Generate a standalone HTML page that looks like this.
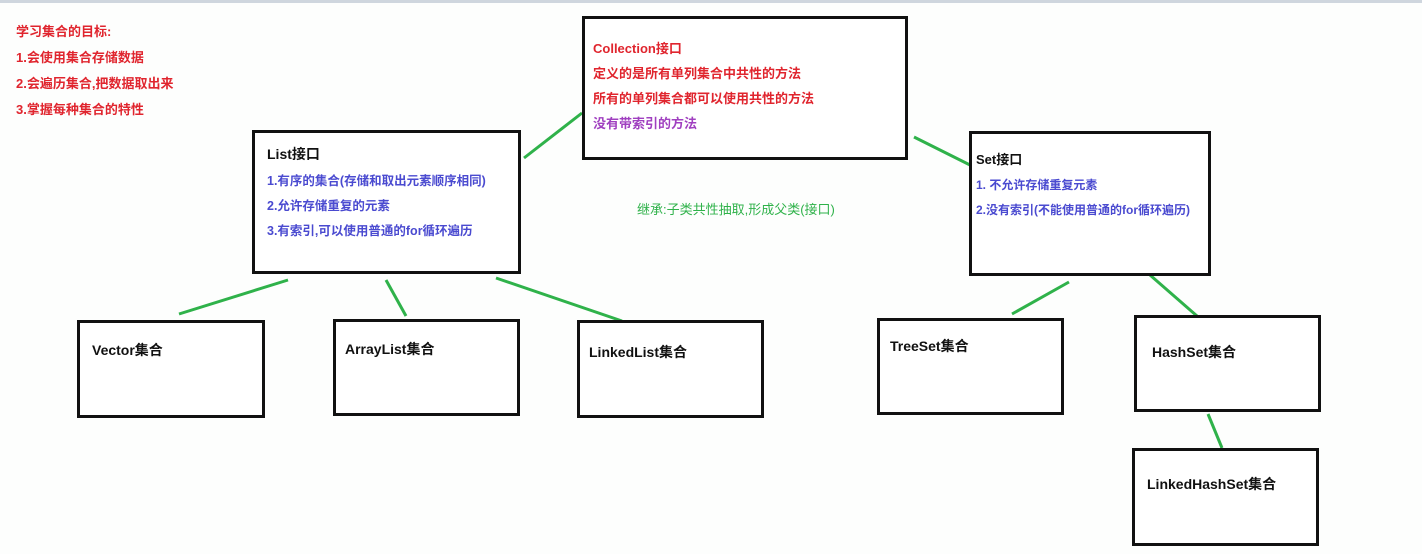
<!DOCTYPE html>
<html><head><meta charset="utf-8"><style>
body{margin:0;width:1422px;height:554px;background:#fdfefd;position:relative;overflow:hidden;font-family:"Liberation Sans","Noto Sans CJK SC",sans-serif;font-weight:bold}
.b{position:absolute;border:3px solid #111;box-sizing:border-box;background:#fff}
.t{position:absolute;font-size:13px;white-space:nowrap}
.r{color:#e0252e}.bl{color:#4a4ad0}.k{color:#111;font-size:14px}
</style></head><body>
<div style="position:absolute;left:0;top:0;width:1422px;height:3px;background:#cfd6de"></div>
<div class="t r" style="left:16px;top:19px;line-height:26px;font-size:13px">学习集合的目标:<br>1.会使用集合存储数据<br>2.会遍历集合,把数据取出来<br>3.掌握每种集合的特性</div>
<svg width="1422" height="554" style="position:absolute;left:0;top:0">
<g stroke="#2fb24a" stroke-width="3">
<line x1="524" y1="158" x2="582" y2="113"/>
<line x1="914" y1="137" x2="972" y2="166"/>
<line x1="288" y1="280" x2="179" y2="314"/>
<line x1="386" y1="280" x2="406" y2="316"/>
<line x1="496" y1="278" x2="622" y2="321"/>
<line x1="1069" y1="282" x2="1012" y2="314"/>
<line x1="1150" y1="275" x2="1205" y2="323"/>
<line x1="1208" y1="414" x2="1222" y2="448"/>
</g></svg>
<div class="b" style="left:582px;top:16px;width:326px;height:144px"></div>
<div class="t r" style="left:593px;top:36px;line-height:25px">Collection接口<br>定义的是所有单列集合中共性的方法<br>所有的单列集合都可以使用共性的方法<br><span style="color:#a040c0">没有带索引的方法</span></div>
<div class="b" style="left:252px;top:130px;width:269px;height:144px"></div>
<div class="t k" style="left:267px;top:144px">List接口</div>
<div class="t bl" style="left:267px;top:169px;line-height:25px;font-size:12.5px">1.有序的集合(存储和取出元素顺序相同)<br>2.允许存储重复的元素<br>3.有索引,可以使用普通的for循环遍历</div>
<div class="b" style="left:969px;top:131px;width:242px;height:145px"></div>
<div class="t k" style="left:976px;top:149px;font-size:13px">Set接口</div>
<div class="t bl" style="left:976px;top:173px;line-height:25px;font-size:12px">1. 不允许存储重复元素<br>2.没有索引(不能使用普通的for循环遍历)</div>
<div class="t" style="left:637px;top:199px;color:#2fb24a;font-weight:normal">继承:子类共性抽取,形成父类(接口)</div>
<div class="b" style="left:77px;top:320px;width:188px;height:98px"></div>
<div class="t k" style="left:92px;top:340px">Vector集合</div>
<div class="b" style="left:333px;top:319px;width:187px;height:97px"></div>
<div class="t k" style="left:345px;top:339px">ArrayList集合</div>
<div class="b" style="left:577px;top:320px;width:187px;height:98px"></div>
<div class="t k" style="left:589px;top:342px">LinkedList集合</div>
<div class="b" style="left:877px;top:318px;width:187px;height:97px"></div>
<div class="t k" style="left:890px;top:336px">TreeSet集合</div>
<div class="b" style="left:1134px;top:315px;width:187px;height:97px"></div>
<div class="t k" style="left:1152px;top:342px">HashSet集合</div>
<div class="b" style="left:1132px;top:448px;width:187px;height:98px"></div>
<div class="t k" style="left:1147px;top:474px">LinkedHashSet集合</div>
</body></html>
